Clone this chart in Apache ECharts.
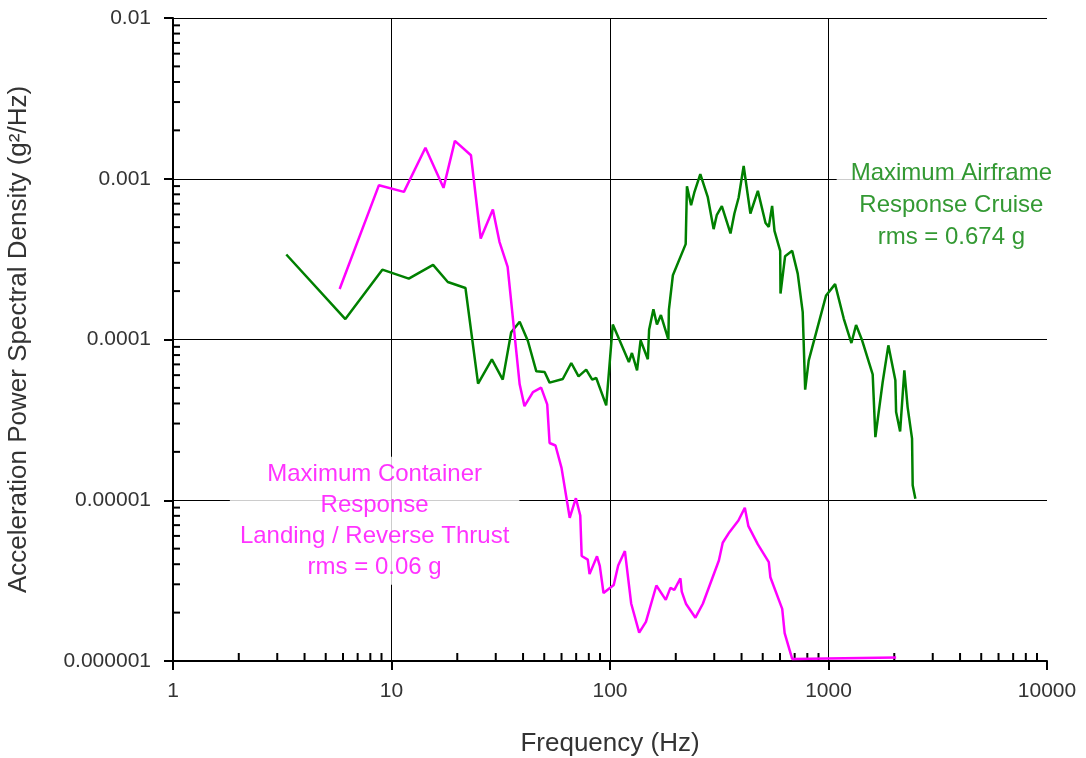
<!DOCTYPE html>
<html>
<head>
<meta charset="utf-8">
<script src="https://cdn.jsdelivr.net/npm/echarts@6/dist/echarts.min.js"></script>
<style>
  html, body { margin: 0; padding: 0; background: #fff; }
  #chart { width: 1086px; height: 758px; }
</style>
</head>
<body>
<div id="chart"></div>
<script>
// Airframe response, cruise: frequency (Hz) and PSD (g^2/Hz)
const airframeFreq = [3.30, 6.15, 9.08, 12.0, 15.5, 18.1, 21.8, 24.9, 28.8, 32.3, 35.3, 38.6, 42.1, 46.0, 50.2, 52.9, 60.8, 66.5, 71.8, 77.8, 82.9, 86.5, 96.1, 103, 122, 126, 133, 138, 149, 151, 158, 164, 171, 185, 186, 194, 222, 225, 235, 243, 259, 280, 298, 308, 325, 356, 371, 388, 409, 439, 475, 515, 533, 552, 566, 601, 603, 633, 682, 723, 762, 782, 812, 975, 1072, 1174, 1273, 1337, 1425, 1593, 1639, 1770, 1879, 2023, 2039, 2127, 2224, 2302, 2412, 2428, 2498];
const airframePsd = [3.38e-4, 1.34e-4, 2.72e-4, 2.39e-4, 2.91e-4, 2.28e-4, 2.09e-4, 5.31e-5, 7.53e-5, 5.63e-5, 1.11e-4, 1.29e-4, 9.79e-5, 6.34e-5, 6.27e-5, 5.39e-5, 5.68e-5, 7.14e-5, 5.90e-5, 6.49e-5, 5.63e-5, 5.76e-5, 3.89e-5, 1.24e-4, 7.24e-5, 8.24e-5, 6.43e-5, 9.89e-5, 7.53e-5, 1.15e-4, 1.54e-4, 1.24e-4, 1.42e-4, 9.99e-5, 1.53e-4, 2.51e-4, 3.92e-4, 8.99e-4, 6.85e-4, 8.19e-4, 1.07e-3, 7.72e-4, 4.86e-4, 5.93e-4, 6.75e-4, 4.57e-4, 6.08e-4, 7.65e-4, 1.20e-3, 6.08e-4, 8.41e-4, 5.31e-4, 5.02e-4, 6.78e-4, 4.74e-4, 3.56e-4, 1.93e-4, 3.30e-4, 3.56e-4, 2.57e-4, 1.48e-4, 4.88e-5, 7.42e-5, 1.88e-4, 2.21e-4, 1.35e-4, 9.51e-5, 1.23e-4, 9.89e-5, 6.07e-5, 2.47e-5, 5.44e-5, 9.20e-5, 5.57e-5, 3.54e-5, 2.68e-5, 6.43e-5, 3.80e-5, 2.42e-5, 1.24e-5, 1.02e-5];

// Container response, landing / reverse thrust
const containerFreq = [5.79, 8.76, 11.4, 14.3, 17.3, 19.5, 23.1, 25.6, 29.1, 31.2, 34.0, 38.6, 40.6, 44.4, 48.4, 51.6, 52.9, 56.3, 60.0, 65.4, 69.8, 73.1, 74.2, 79.1, 80.6, 87.2, 89.8, 93.4, 104, 109, 117, 125, 136, 146, 163, 180, 189, 197, 210, 213, 223, 246, 266, 315, 328, 352, 387, 414, 430, 475, 533, 542, 614, 630, 682, 2039];
const containerPsd = [2.06e-4, 9.12e-4, 8.29e-4, 1.56e-3, 8.78e-4, 1.72e-3, 1.40e-3, 4.25e-4, 6.44e-4, 4.05e-4, 2.83e-4, 5.26e-5, 3.85e-5, 4.71e-5, 5.02e-5, 3.95e-5, 2.27e-5, 2.19e-5, 1.59e-5, 7.78e-6, 1.03e-5, 8.04e-6, 4.50e-6, 4.27e-6, 3.47e-6, 4.48e-6, 3.91e-6, 2.65e-6, 2.97e-6, 3.93e-6, 4.83e-6, 2.28e-6, 1.50e-6, 1.75e-6, 2.95e-6, 2.40e-6, 2.85e-6, 2.77e-6, 3.27e-6, 2.70e-6, 2.26e-6, 1.86e-6, 2.27e-6, 4.22e-6, 5.44e-6, 6.33e-6, 7.48e-6, 8.98e-6, 6.90e-6, 5.31e-6, 4.12e-6, 3.32e-6, 2.11e-6, 1.49e-6, 1.03e-6, 1.05e-6];

// Axis ranges and minor tick values (log decades)
const freqRange = [1, 10000];
const psdRange = [1e-6, 1e-2];
const freqMinorTicks = [];
for (let d = 1; d < 10000; d *= 10) for (let k = 2; k <= 9; k++) freqMinorTicks.push(k * d);
const psdMinorTicks = [];
for (let e = -6; e < -2; e++) for (let k = 2; k <= 9; k++) psdMinorTicks.push(k * Math.pow(10, e));

// Annotation texts and anchor points (data space)
const airframeNote = 'Maximum Airframe\nResponse Cruise\nrms = 0.674 g';
const airframeNoteAt = [3650, 6.85e-4];
const containerNote = 'Maximum Container\nResponse\nLanding / Reverse Thrust\nrms = 0.06 g';
const containerNoteAt = [8.37, 7.45e-6];

const FONT = 'Liberation Sans, Arial, sans-serif';
const GREEN = '#008000';
const MAGENTA = '#ff00ff';

function pairs(xs, ys) { return xs.map((x, i) => [x, ys[i]]); }

function psdLabel(v) {
  const dec = Math.round(-Math.log10(v));
  return v.toFixed(dec);
}

function freqLabel(v) {
  return String(Math.round(v));
}

const chart = echarts.init(document.getElementById('chart'), null, { renderer: 'canvas' });

const option = {
  backgroundColor: '#fff',
  animation: false,
  grid: { left: 173, right: 39, top: 18, bottom: 97, containLabel: false, outerBoundsMode: 'none' },
  xAxis: {
    type: 'log', logBase: 10, min: freqRange[0], max: freqRange[1],
    name: 'Frequency (Hz)', nameLocation: 'middle', nameGap: 70,
    nameTextStyle: { fontFamily: FONT, fontSize: 26, color: '#333' },
    axisLine: { lineStyle: { color: '#000', width: 2 } },
    axisTick: { show: true, inside: false, length: 9, lineStyle: { color: '#000', width: 2 } },
    axisLabel: { fontFamily: FONT, fontSize: 21, color: '#333', margin: 20, formatter: freqLabel },
    splitLine: { show: true, showMaxLine: false, lineStyle: { color: '#000', width: 1 } },
    minorTick: { show: false }
  },
  yAxis: {
    type: 'log', logBase: 10, min: psdRange[0], max: psdRange[1],
    name: 'Acceleration Power Spectral Density (g²/Hz)', nameLocation: 'middle', nameGap: 141, nameRotate: 90,
    nameTextStyle: { fontFamily: FONT, fontSize: 26, color: '#333' },
    axisLine: { lineStyle: { color: '#000', width: 2 } },
    axisTick: { show: true, inside: false, length: 9, lineStyle: { color: '#000', width: 2 } },
    axisLabel: { fontFamily: FONT, fontSize: 21, color: '#333', margin: 22, formatter: psdLabel },
    splitLine: { show: true, lineStyle: { color: '#000', width: 1 } }
  },
  series: [
    {
      // minor ticks on the frequency axis, pointing into the plot
      type: 'custom', silent: true, clip: false, z: 3,
      data: freqMinorTicks.map(v => [v, psdRange[0]]),
      renderItem: function (params, api) {
        const p = api.coord([api.value(0), api.value(1)]);
        return { type: 'line', shape: { x1: p[0], y1: p[1], x2: p[0], y2: p[1] - 8 },
                 style: { stroke: '#000', lineWidth: 2 } };
      }
    },
    {
      // minor ticks on the PSD axis, pointing into the plot
      type: 'custom', silent: true, clip: false, z: 3,
      data: psdMinorTicks.map(v => [freqRange[0], v]),
      renderItem: function (params, api) {
        const p = api.coord([api.value(0), api.value(1)]);
        return { type: 'line', shape: { x1: p[0], y1: p[1], x2: p[0] + 7, y2: p[1] },
                 style: { stroke: '#000', lineWidth: 2 } };
      }
    },
    {
      name: 'Airframe', type: 'line', data: pairs(airframeFreq, airframePsd),
      showSymbol: false, symbol: 'none', lineStyle: { color: GREEN, width: 2.5 }, z: 4
    },
    {
      name: 'Container', type: 'line', data: pairs(containerFreq, containerPsd),
      showSymbol: false, symbol: 'none', lineStyle: { color: MAGENTA, width: 2.5 }, z: 4
    },
    {
      type: 'scatter', symbolSize: 0, silent: true, z: 5,
      data: [airframeNoteAt],
      label: { show: true, position: 'inside', formatter: airframeNote, fontFamily: FONT, fontSize: 24,
               lineHeight: 32, color: GREEN, align: 'center', verticalAlign: 'middle',
               backgroundColor: '#fff', padding: [2, 14, 2, 14] }
    },
    {
      type: 'scatter', symbolSize: 0, silent: true, z: 5,
      data: [containerNoteAt],
      label: { show: true, position: 'inside', formatter: containerNote, fontFamily: FONT, fontSize: 24,
               lineHeight: 31, color: MAGENTA, align: 'center', verticalAlign: 'middle',
               backgroundColor: '#fff', padding: [2, 10, 2, 10] }
    }
  ]
};

chart.setOption(option);
</script>
</body>
</html>
